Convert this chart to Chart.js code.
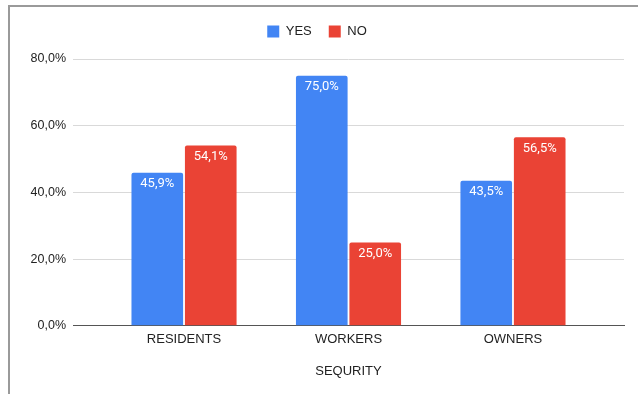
<!DOCTYPE html>
<html>
<head>
<meta charset="utf-8">
<script src="https://cdn.jsdelivr.net/npm/chart.js@4/dist/chart.umd.min.js"></script>
<style>
  body { margin: 0; background: #fff; overflow: hidden; }
  #frame {
    position: absolute; left: 8px; top: 5px; width: 640px; height: 400px;
    border-left: 2px solid #9a9a9a; border-top: 2px solid #9a9a9a;
  }
  #wrap { position: absolute; left: 10px; top: 7px; width: 628px; height: 387px; }
</style>
</head>
<body>
<div id="frame"></div>
<div id="wrap"><canvas id="chart"></canvas></div>
<script>
const categories = ['RESIDENTS', 'WORKERS', 'OWNERS'];
const yesValues = [45.9, 75.0, 43.5];
const noValues = [54.1, 25.0, 56.5];
const yTicks = [0, 20, 40, 60, 80];

const FONT = 'Liberation Sans, Arial, Helvetica, sans-serif';

function pct(v) {
  return v.toFixed(1).replace('.', ',') + '%';
}

// white value labels inside the top of each bar
const barLabels = {
  id: 'barLabels',
  afterDatasetsDraw(chart) {
    const ctx = chart.ctx;
    ctx.save();
    ctx.font = '13px Roboto, ' + FONT;
    ctx.fillStyle = '#ffffff';
    ctx.textAlign = 'center';
    ctx.textBaseline = 'middle';
    chart.data.datasets.forEach((ds, i) => {
      chart.getDatasetMeta(i).data.forEach((bar, j) => {
        ctx.fillText(pct(ds.data[j].y), bar.x, bar.y + 11);
      });
    });
    ctx.restore();
  }
};

new Chart(document.getElementById('chart'), {
  type: 'bar',
  data: {
    datasets: [
      {
        label: 'YES',
        data: categories.map((c, i) => ({ x: i, y: yesValues[i] })),
        backgroundColor: '#4285f4',
        borderRadius: { topLeft: 2, topRight: 2 },
        borderSkipped: 'start'
      },
      {
        label: 'NO',
        data: categories.map((c, i) => ({ x: i, y: noValues[i] })),
        backgroundColor: '#ea4335',
        borderRadius: { topLeft: 2, topRight: 2 },
        borderSkipped: 'start'
      }
    ]
  },
  options: {
    responsive: true,
    maintainAspectRatio: false,
    animation: false,
    categoryPercentage: 0.65,
    barPercentage: 0.966,
    layout: { padding: { top: 1, right: 14, bottom: 10, left: 0 } },
    plugins: {
      legend: {
        position: 'top',
        labels: {
          boxWidth: 12,
          boxHeight: 12,
          padding: 17,
          color: '#222',
          font: { family: FONT, size: 13 }
        }
      },
      subtitle: {
        display: true,
        text: '',
        weight: 500,
        font: { size: 11, lineHeight: 1 },
        padding: 0
      },
      tooltip: { enabled: false }
    },
    scales: {
      x: {
        type: 'linear',
        offset: false,
        min: -0.675,
        max: 2.675,
        afterBuildTicks: s => { s.ticks = categories.map((c, i) => ({ value: i })); },
        ticks: {
          callback: v => categories[v],
          color: '#222',
          padding: 6,
          font: { family: FONT, size: 13 }
        },
        grid: { display: false, drawTicks: false, offset: false },
        border: { display: true, color: '#555', width: 1 },
        title: {
          display: true,
          text: 'SEQURITY',
          color: '#222',
          font: { family: FONT, size: 13 },
          padding: { top: 10, bottom: 5 }
        }
      },
      y: {
        min: 0,
        max: 80,
        afterBuildTicks: s => { s.ticks = yTicks.map(v => ({ value: v })); },
        afterFit: s => { s.width = 63; },
        ticks: {
          callback: v => pct(v),
          color: '#222',
          padding: 7,
          font: { family: FONT, size: 12.5 }
        },
        grid: {
          drawTicks: false,
          color: ctx => ctx.tick && ctx.tick.value === 0 ? 'rgba(0,0,0,0)' : '#d9d9d9'
        },
        border: { display: false }
      }
    }
  },
  plugins: [barLabels]
});
</script>
</body>
</html>
